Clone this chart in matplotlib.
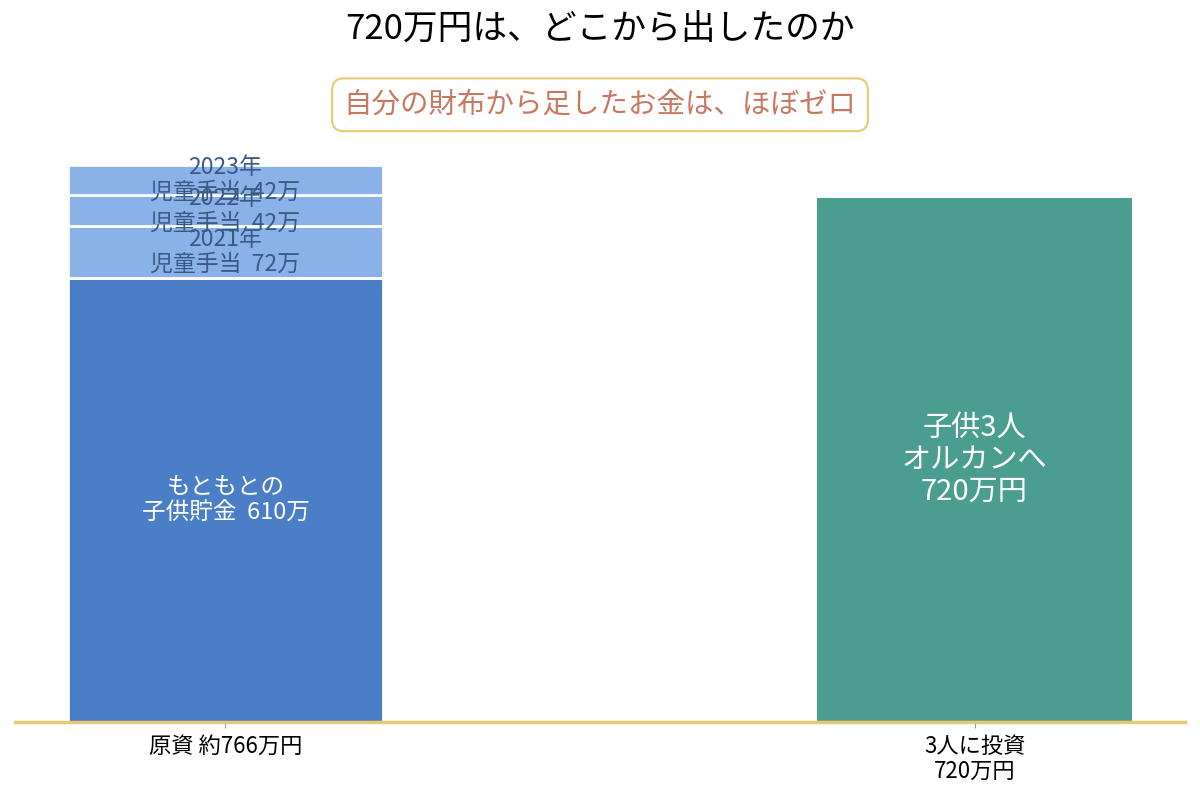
import matplotlib.pyplot as plt

plt.rcParams['font.family'] = ['Noto Sans CJK JP', 'DejaVu Sans']

# データ
categories = ['原資 約766万円', '3人に投資\n720万円']
base_value = 610
allowance_values = [72, 42, 42]
allowance_labels = ['2021年\n児童手当  72万', '2022年\n児童手当  42万', '2023年\n児童手当  42万']
invest_value = 720

fig = plt.figure(figsize=(12, 8), dpi=100)
ax = fig.add_axes([0.0125, 0.0975, 0.975, 0.7275])

w = 0.42
# もともとの貯金
ax.bar(0, base_value, width=w, color='#4a7ec6', edgecolor='white', linewidth=2)
ax.text(0, base_value / 2, 'もともとの\n子供貯金  610万', ha='center', va='center',
        color='white', fontsize=17, linespacing=1.12)

# 児童手当を積み上げ
bottom = base_value
for v, lab in zip(allowance_values, allowance_labels):
    ax.bar(0, v, width=w, bottom=bottom, color='#8ab2e8', edgecolor='white', linewidth=2)
    ax.text(0, bottom + v / 2, lab, ha='center', va='center',
            color='#3a5a86', fontsize=16.5, linespacing=1.08)
    bottom += v

# 投資
ax.bar(1, invest_value, width=w, color='#4a9e90')
ax.text(1, invest_value / 2, '子供3人\nオルカンへ\n720万円', ha='center', va='center',
        color='white', fontsize=21, linespacing=1.08)

ax.set_xticks([0, 1])
ax.set_xticklabels(categories, fontsize=16, linespacing=1.15)
ax.tick_params(axis='x', length=4, color='#999999', pad=5)
ax.set_yticks([])
ax.set_ylim(0, 800)
for s in ['top', 'left', 'right']:
    ax.spines[s].set_visible(False)
ax.spines['bottom'].set_color('#e8c870')
ax.spines['bottom'].set_linewidth(2.5)

fig.text(0.5, 0.963, '720万円は、どこから出したのか', ha='center', va='center', fontsize=25)
fig.text(0.5, 0.869, '自分の財布から足したお金は、ほぼゼロ', ha='center', va='center',
         fontsize=20.5, color='#c87860',
         bbox=dict(boxstyle='round,pad=0.4', fc='white', ec='#e8c870', lw=1.5))

plt.savefig('out.png', dpi=100)
